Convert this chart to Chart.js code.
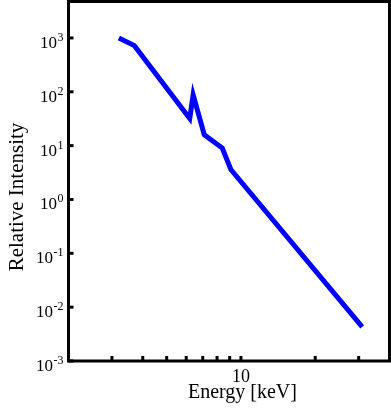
<!DOCTYPE html>
<html>
<head>
<meta charset="utf-8">
<script src="https://cdn.jsdelivr.net/npm/chart.js@4/dist/chart.umd.min.js"></script>
<style>
  html, body { margin: 0; padding: 0; background: #fff; }
  #wrap { width: 391px; height: 408px; }
</style>
</head>
<body>
<div id="wrap"><canvas id="spectrum"></canvas></div>
<script>
// spectrum (keV, relative intensity)
const energies = [3.2, 3.7, 6.2, 6.4, 7.1, 8.4, 9.1, 31];
const intensities = [1000, 720, 32, 88, 16, 9, 3.6, 0.0043];

// axis ticks
const xTicks = [3, 4, 5, 6, 7, 8, 9, 10, 20, 30];
const xTickLabels = ['10'];
const yExponents = [-3, -2, -1, 0, 1, 2, 3];

const serif = '"Liberation Serif", "Times New Roman", serif';

const frame = {
    id: 'frame',
    afterDraw(chart) {
        const { ctx, chartArea: a, scales } = chart;
        const x = scales.x, y = scales.y;
        ctx.save();
        ctx.strokeStyle = '#000';
        ctx.fillStyle = '#000';
        ctx.lineWidth = 3;
        ctx.strokeRect(a.left, a.top, a.right - a.left, a.bottom - a.top);

        // tick marks, pointing inward
        ctx.lineWidth = 3;
        xTicks.forEach(v => {
            const px = x.getPixelForValue(v);
            ctx.beginPath();
            ctx.moveTo(px, a.bottom);
            ctx.lineTo(px, a.bottom - 5);
            ctx.stroke();
        });
        yExponents.forEach(e => {
            const py = y.getPixelForValue(Math.pow(10, e));
            ctx.beginPath();
            ctx.moveTo(a.left, py);
            ctx.lineTo(a.left + 5, py);
            ctx.stroke();
        });

        // y tick labels 10^n
        ctx.textAlign = 'right';
        ctx.textBaseline = 'alphabetic';
        yExponents.forEach(e => {
            const py = y.getPixelForValue(Math.pow(10, e));
            const exp = String(e);
            ctx.font = '12px ' + serif;
            const w = ctx.measureText(exp).width;
            ctx.fillText(exp, a.left - 5, py + 3);
            ctx.font = '17px ' + serif;
            ctx.fillText('10', a.left - 5 - w - 0.5, py + 10);
        });

        // x tick labels
        ctx.textAlign = 'center';
        ctx.font = '18px ' + serif;
        xTickLabels.forEach(t => {
            ctx.fillText(t, x.getPixelForValue(Number(t)), a.bottom + 21);
        });

        // axis titles
        ctx.font = '20px ' + serif;
        ctx.fillText('Energy [keV]', x.getPixelForValue(10) + 1.5, a.bottom + 37);

        ctx.translate(23, 197);
        ctx.rotate(-Math.PI / 2);
        ctx.font = '21px ' + serif;
        ctx.fillText('Relative Intensity', 0, 0);
        ctx.restore();
    }
};

new Chart(document.getElementById('spectrum'), {
    type: 'scatter',
    data: {
        datasets: [{
            data: energies.map((e, i) => ({ x: e, y: intensities[i] })),
            showLine: true,
            borderColor: '#0000ff',
            borderWidth: 5,
            pointRadius: 0,
            tension: 0
        }]
    },
    options: {
        responsive: true,
        maintainAspectRatio: false,
        animation: false,
        layout: { padding: { left: 68.5, top: 1.5, right: 1.5, bottom: 47 } },
        plugins: { legend: { display: false }, tooltip: { enabled: false } },
        scales: {
            x: { type: 'logarithmic', min: 2, max: 40, display: false },
            y: { type: 'logarithmic', min: 0.001, max: 4750, display: false }
        }
    },
    plugins: [frame]
});
</script>
</body>
</html>
